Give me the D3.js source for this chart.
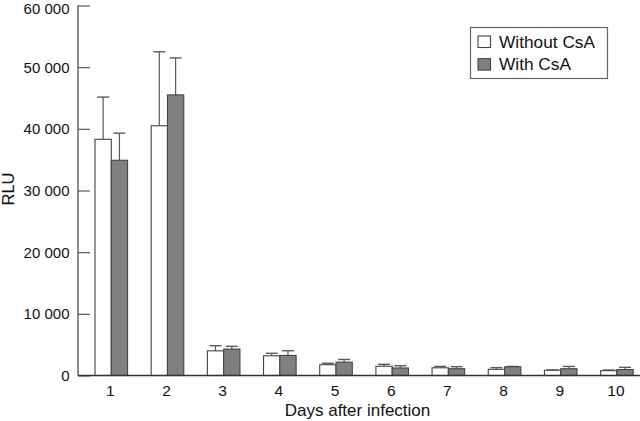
<!DOCTYPE html>
<html>
<head>
<meta charset="utf-8">
<script src="https://cdn.jsdelivr.net/npm/d3@7"></script>
<style>
  html, body { margin: 0; padding: 0; background: #ffffff; }
  svg { display: block; }
</style>
</head>
<body>
<svg id="chart" width="640" height="421"></svg>
<script>
const days = ['1', '2', '3', '4', '5', '6', '7', '8', '9', '10'];
const seriesNames = ['Without CsA', 'With CsA'];
const withoutCsA = [38300, 40500, 4000, 3200, 1750, 1500, 1250, 1000, 850, 780];
const withoutCsAError = [45150, 52500, 4830, 3600, 1980, 1820, 1470, 1270, 900, 890];
const withCsA = [34900, 45500, 4280, 3250, 2170, 1220, 1100, 1400, 1100, 960];
const withCsAError = [39300, 51500, 4730, 4020, 2600, 1590, 1430, 1470, 1470, 1320];
const yTicks = [0, 10000, 20000, 30000, 40000, 50000, 60000];

const FONT = '"Liberation Sans", Arial, Helvetica, sans-serif';
const AXIS_COLOR = '#5a5a5a';
const fills = ['#ffffff', '#808080'];

const rows = days.map((day, i) => ({
  day,
  values: [
    { key: 0, value: withoutCsA[i], top: withoutCsAError[i] },
    { key: 1, value: withCsA[i], top: withCsAError[i] }
  ]
}));

const root = d3.select('#chart');

const x = d3.scaleBand()
  .domain(days)
  .range([95, 633.2])
  .paddingInner(0.42)
  .paddingOuter(0);

const xSub = d3.scaleBand()
  .domain([0, 1])
  .range([0, x.bandwidth()]);

const y = d3.scaleLinear()
  .domain([0, 60000])
  .range([375.5, 5.5]);

// y axis ticks point into the plot
const yAxis = root.append('g')
  .attr('transform', 'translate(78,0)')
  .call(d3.axisRight(y).tickValues(yTicks).tickSize(12).tickFormat(''));
yAxis.select('.domain').remove();
yAxis.selectAll('line').attr('stroke', AXIS_COLOR).attr('stroke-width', 1.2);

root.append('line')
  .attr('x1', 78).attr('x2', 78)
  .attr('y1', y(60000)).attr('y2', y(0))
  .attr('stroke', AXIS_COLOR)
  .attr('stroke-width', 1.4);

// top label nudged down so it stays inside the frame
root.append('g')
  .selectAll('text')
  .data(yTicks)
  .join('text')
  .attr('x', 69.5)
  .attr('y', (d) => Math.max(y(d), 9))
  .attr('dy', '0.36em')
  .attr('text-anchor', 'end')
  .attr('font-family', FONT)
  .attr('font-size', 15)
  .attr('fill', '#111111')
  .text((d) => (d === 0 ? '0' : d3.format(',')(d).replace(',', ' ')));

// bars with upward error bars
const groups = root.append('g')
  .selectAll('g')
  .data(rows)
  .join('g')
  .attr('transform', (d) => `translate(${x(d.day)},0)`);

groups.selectAll('line.err')
  .data((d) => d.values)
  .join('line')
  .attr('class', 'err')
  .attr('x1', (d) => xSub(d.key) + xSub.bandwidth() / 2)
  .attr('x2', (d) => xSub(d.key) + xSub.bandwidth() / 2)
  .attr('y1', (d) => y(d.value))
  .attr('y2', (d) => y(d.top))
  .attr('stroke', AXIS_COLOR)
  .attr('stroke-width', 1.2);

groups.selectAll('line.cap')
  .data((d) => d.values)
  .join('line')
  .attr('class', 'cap')
  .attr('x1', (d) => xSub(d.key) + xSub.bandwidth() / 2 - 6)
  .attr('x2', (d) => xSub(d.key) + xSub.bandwidth() / 2 + 6)
  .attr('y1', (d) => y(d.top))
  .attr('y2', (d) => y(d.top))
  .attr('stroke', AXIS_COLOR)
  .attr('stroke-width', 1.4);

groups.selectAll('rect')
  .data((d) => d.values)
  .join('rect')
  .attr('x', (d) => xSub(d.key))
  .attr('y', (d) => y(d.value))
  .attr('width', xSub.bandwidth())
  .attr('height', (d) => y(0) - y(d.value))
  .attr('fill', (d) => fills[d.key])
  .attr('stroke', '#444444')
  .attr('stroke-width', 1.1);

// x axis
root.append('line')
  .attr('x1', 78).attr('x2', 640)
  .attr('y1', y(0)).attr('y2', y(0))
  .attr('stroke', '#333333')
  .attr('stroke-width', 1.4);

root.append('g')
  .selectAll('text')
  .data(days)
  .join('text')
  .attr('x', (d) => x(d) + x.bandwidth() / 2 - 1)
  .attr('y', 396)
  .attr('text-anchor', 'middle')
  .attr('font-family', FONT)
  .attr('font-size', 15.5)
  .attr('fill', '#111111')
  .text((d) => d);

// axis titles
root.append('text')
  .attr('x', 357.5)
  .attr('y', 415.5)
  .attr('text-anchor', 'middle')
  .attr('font-family', FONT)
  .attr('font-size', 17)
  .attr('fill', '#111111')
  .text('Days after infection');

root.append('text')
  .attr('transform', 'translate(14,189) rotate(-90)')
  .attr('text-anchor', 'middle')
  .attr('font-family', FONT)
  .attr('font-size', 16.5)
  .attr('fill', '#111111')
  .text('RLU');

// legend
const legend = root.append('g');
legend.append('rect')
  .attr('x', 470.5).attr('y', 27.5)
  .attr('width', 137).attr('height', 51)
  .attr('fill', '#ffffff')
  .attr('stroke', '#666666')
  .attr('stroke-width', 1.2);

const items = legend.selectAll('g')
  .data(seriesNames)
  .join('g')
  .attr('transform', (d, i) => `translate(478,${36 + i * 22.6})`);

items.append('rect')
  .attr('width', 12.5).attr('height', 11.5)
  .attr('fill', (d, i) => fills[i])
  .attr('stroke', '#444444')
  .attr('stroke-width', 1.1);

items.append('text')
  .attr('x', 21)
  .attr('y', 11.7)
  .attr('font-family', FONT)
  .attr('font-size', 17.3)
  .attr('fill', '#111111')
  .text((d) => d);
</script>
</body>
</html>
